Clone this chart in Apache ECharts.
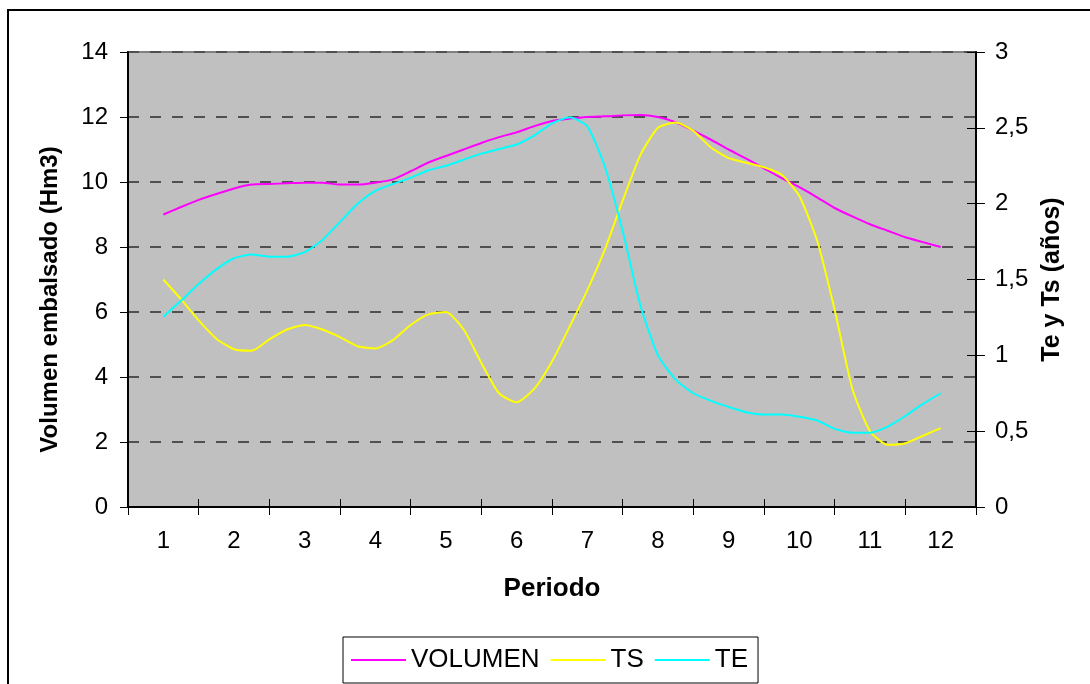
<!DOCTYPE html>
<html>
<head>
<meta charset="utf-8">
<script src="https://cdn.jsdelivr.net/npm/echarts@6/dist/echarts.min.js"></script>
<style>
  html, body { margin: 0; padding: 0; background: #fff; }
  #chart { width: 1090px; height: 684px; }
</style>
</head>
<body>
<div id="chart"></div>
<script>
// periodos del eje x
var periodos = ['1', '2', '3', '4', '5', '6', '7', '8', '9', '10', '11', '12'];
// posiciones leidas sobre el eje (cada cuarto de periodo)
var posiciones = [1, 1.25, 1.5, 1.75, 2, 2.25, 2.5, 2.75, 3, 3.25, 3.5, 3.75, 4, 4.25, 4.5, 4.75,
    5, 5.25, 5.5, 5.75, 6, 6.25, 6.5, 6.75, 7, 7.25, 7.5, 7.75, 8, 8.25, 8.5, 8.75,
    9, 9.25, 9.5, 9.75, 10, 10.25, 10.5, 10.75, 11, 11.25, 11.5, 11.75, 12];
// Hm3, eje izquierdo
var volumen = [9.0, 9.23, 9.45, 9.63, 9.8, 9.92, 9.94, 9.96, 9.98, 9.98, 9.92, 9.92, 9.98, 10.08, 10.33, 10.6,
    10.8, 11.0, 11.2, 11.38, 11.53, 11.72, 11.88, 11.95, 12.0, 12.02, 12.05, 12.06, 12.0, 11.84, 11.58, 11.3,
    11.0, 10.72, 10.42, 10.12, 9.84, 9.53, 9.2, 8.94, 8.7, 8.5, 8.3, 8.15, 8.0];
// años, eje derecho
var ts = [1.5, 1.37, 1.23, 1.11, 1.04, 1.03, 1.105, 1.17, 1.2, 1.17, 1.12, 1.06, 1.045, 1.1, 1.2, 1.27,
    1.285, 1.17, 0.95, 0.75, 0.69, 0.78, 0.96, 1.19, 1.43, 1.7, 2.02, 2.32, 2.5, 2.535, 2.48, 2.37,
    2.3, 2.27, 2.24, 2.19, 2.05, 1.76, 1.3, 0.78, 0.5, 0.41, 0.42, 0.47, 0.52];
var te = [1.255, 1.36, 1.47, 1.567, 1.64, 1.665, 1.65, 1.65, 1.68, 1.76, 1.88, 2.0, 2.085, 2.13, 2.17, 2.22,
    2.25, 2.29, 2.33, 2.36, 2.39, 2.45, 2.53, 2.57, 2.51, 2.24, 1.82, 1.33, 1.0, 0.84, 0.75, 0.7,
    0.66, 0.625, 0.61, 0.61, 0.595, 0.57, 0.515, 0.49, 0.49, 0.53, 0.6, 0.68, 0.75];

function pares(ys) {
    return ys.map(function (v, i) { return [posiciones[i], v]; });
}

var fuente = "'Liberation Sans', Arial, sans-serif";
var chart = echarts.init(document.getElementById('chart'));

var option = {
    animation: false,
    textStyle: { fontFamily: fuente, color: '#000' },
    graphic: [{
        type: 'rect',
        shape: { x: 8, y: 10, width: 1200, height: 800 },
        style: { fill: 'none', stroke: '#000', lineWidth: 2 },
        silent: true
    }],
    grid: {
        left: 128, right: 114, top: 52, bottom: 177,
        show: true,
        backgroundColor: '#C0C0C0',
        borderColor: '#808080',
        borderWidth: 2
    },
    legend: {
        left: 343, top: 637,
        data: ['VOLUMEN', 'TS', 'TE'],
        icon: 'rect',
        itemWidth: 55, itemHeight: 2,
        itemGap: 11,
        padding: [10, 10, 10, 8],
        backgroundColor: '#fff',
        borderColor: '#000',
        borderWidth: 1,
        textStyle: { fontSize: 26, fontFamily: fuente, color: '#000' }
    },
    xAxis: [{
        type: 'category',
        data: periodos,
        boundaryGap: true,
        position: 'bottom',
        axisLine: { lineStyle: { color: '#000', width: 2 } },
        axisTick: { show: true, inside: false, length: 8, lineStyle: { color: '#000' } },
        axisLabel: { fontSize: 24, color: '#000', margin: 22 },
        name: 'Periodo',
        nameLocation: 'middle',
        nameGap: 69,
        nameTextStyle: { fontSize: 26, fontWeight: 'bold', color: '#000' }
    }, {
        type: 'category',
        data: periodos,
        boundaryGap: true,
        position: 'bottom',
        axisLine: { show: false },
        axisTick: { show: true, inside: true, length: 8, lineStyle: { color: '#000' } },
        axisLabel: { show: false }
    }, {
        type: 'value',
        min: 0.5, max: 12.5,
        show: false
    }],
    yAxis: [{
        type: 'value',
        position: 'left',
        min: 0, max: 14, interval: 2,
        axisLine: { show: true, lineStyle: { color: '#000', width: 2 } },
        axisTick: { show: true, length: 8, lineStyle: { color: '#000' } },
        axisLabel: { fontSize: 24, color: '#000', margin: 20 },
        splitLine: { show: true, lineStyle: { color: '#505050', width: 2, type: [11, 11] } },
        name: 'Volumen embalsado (Hm3)',
        nameLocation: 'middle',
        nameGap: 66,
        nameTextStyle: { fontSize: 24, fontWeight: 'bold', color: '#000', padding: [0, 40, 0, 0] }
    }, {
        type: 'value',
        position: 'right',
        min: 0, max: 3, interval: 0.5,
        axisLine: { show: true, lineStyle: { color: '#000', width: 2 } },
        axisTick: { show: true, length: 9, lineStyle: { color: '#000' } },
        axisLabel: {
            fontSize: 24, color: '#000', margin: 19,
            formatter: function (v) { return String(v).replace('.', ','); }
        },
        splitLine: { show: false },
        name: 'Te y Ts (años)',
        nameLocation: 'middle',
        nameGap: 44,
        nameRotate: 90,
        nameTextStyle: { fontSize: 25, fontWeight: 'bold', color: '#000' }
    }, {
        type: 'value',
        position: 'right',
        min: 0, max: 3, interval: 0.5,
        axisLine: { show: false },
        axisTick: { show: true, inside: true, length: 9, lineStyle: { color: '#000' } },
        axisLabel: { show: false },
        splitLine: { show: false }
    }],
    series: [{
        name: 'VOLUMEN',
        type: 'line',
        xAxisIndex: 2, yAxisIndex: 0,
        data: pares(volumen),
        smooth: 0.2,
        showSymbol: false,
        lineStyle: { color: '#FF00FF', width: 2 },
        itemStyle: { color: '#FF00FF' }
    }, {
        name: 'TS',
        type: 'line',
        xAxisIndex: 2, yAxisIndex: 1,
        data: pares(ts),
        smooth: 0.2,
        showSymbol: false,
        lineStyle: { color: '#FFFF00', width: 2 },
        itemStyle: { color: '#FFFF00' }
    }, {
        name: 'TE',
        type: 'line',
        xAxisIndex: 2, yAxisIndex: 1,
        data: pares(te),
        smooth: 0.2,
        showSymbol: false,
        lineStyle: { color: '#00FFFF', width: 2 },
        itemStyle: { color: '#00FFFF' }
    }]
};

chart.setOption(option);
</script>
</body>
</html>
